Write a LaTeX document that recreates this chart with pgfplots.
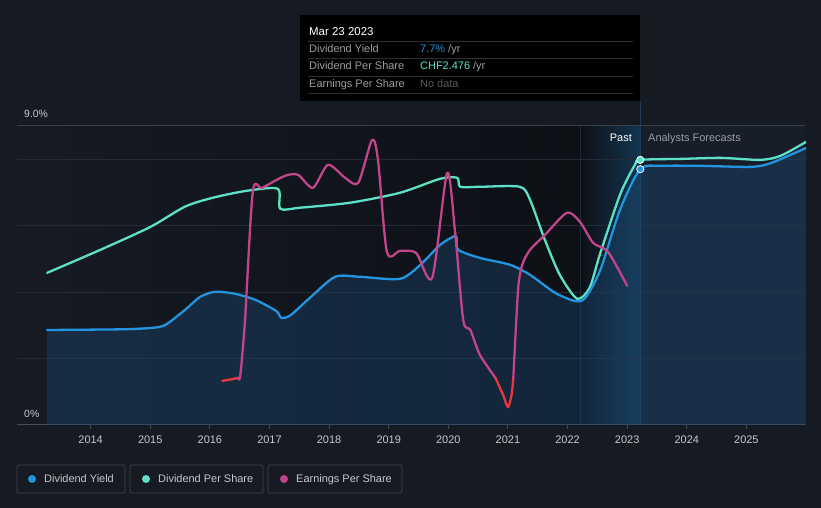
\documentclass[border=0pt]{standalone}
\usepackage{fontspec}
\setmainfont{Liberation Sans}
\usepackage{pgfplots}
\pgfplotsset{compat=1.18}
\definecolor{bg}{HTML}{151A23}
\definecolor{pastdark}{HTML}{0D1015}
\definecolor{foreb}{HTML}{171E29}
\definecolor{gridc}{HTML}{252B34}
\definecolor{topc}{HTML}{3B4048}
\definecolor{axisc}{HTML}{474B52}
\definecolor{tickc}{HTML}{C5C8CC}
\definecolor{yieldc}{HTML}{2394DF}
\definecolor{dpsc}{HTML}{5CE1C8}
\definecolor{epsc}{HTML}{C24489}
\definecolor{redc}{HTML}{E8383D}
\definecolor{fillc}{HTML}{1E5080}
\definecolor{bandr}{HTML}{133550}
\definecolor{vline}{HTML}{1F3D55}
\definecolor{vlinef}{HTML}{18293A}
\definecolor{ttgray}{HTML}{9A9DA2}
\definecolor{ttsep}{HTML}{2C2F35}
\definecolor{legb}{HTML}{3E434B}
\begin{document}
\begin{tikzpicture}[x=1bp,y=1bp]
\fill[bg] (0,0) rectangle (821,508);
\shade[left color=bg, right color=pastdark] (47,83) rectangle (580,382);
\shade[left color=pastdark, right color=bandr] (580,83) rectangle (640,382);
\fill[foreb] (640,83) rectangle (805,382);
% grid
\foreach \v in {2,4,6,8} {\draw[gridc, line width=1bp] (17,{83+\v*33.2}) -- (805,{83+\v*33.2});}
\draw[topc, line width=1bp] (17,382) -- (805,382);
\draw[vlinef, line width=0.6bp] (580,83) -- (580,382);
\draw[vline, line width=1bp] (640,83) -- (640,407);
\begin{axis}[at={(17bp,83bp)}, anchor=south west, scale only axis,
  width=789bp, height=299bp,
  xmin=2012.765, xmax=2026.0, ymin=0, ymax=9,
  axis x line*=bottom, axis y line=none,
  x axis line style={draw=axisc, line width=1bp, -},
  xtick={2014,2015,2016,2017,2018,2019,2020,2021,2022,2023,2024,2025},
  xticklabels={2014,2015,2016,2017,2018,2019,2020,2021,2022,2023,2024,2025},
  xticklabel style={text=tickc, font=\fontsize{11}{13}\selectfont, yshift=-3bp},
  major tick length=4bp, tick align=outside,
  tick style={draw=axisc, line width=1bp},
  ytick=\empty,
  every axis plot/.append style={line width=2.3bp, line join=round, line cap=round},
  ]
% fill under dividend yield
\addplot[draw=none, fill=fillc, fill opacity=0.35, smooth, tension=0.45] coordinates {
(2013.27,2.86)(2014.5,2.88)(2015.0,2.92)(2015.25,3.01)(2015.58,3.46)(2015.84,3.86)(2016.09,4.01)(2016.42,3.95)(2016.76,3.77)(2017.09,3.46)(2017.15,3.36)(2017.20,3.22)(2017.35,3.30)(2017.68,3.83)(2018.10,4.46)(2018.52,4.46)(2019.19,4.40)(2019.53,4.82)(2019.86,5.42)(2020.11,5.69)(2020.14,5.60)(2020.17,5.27)(2020.53,5.03)(2021.04,4.82)(2021.37,4.52)(2021.79,3.98)(2022.13,3.73)(2022.30,3.83)(2022.55,4.67)(2022.88,6.48)(2023.22,7.70)(2023.57,7.80)(2024.25,7.80)(2025.08,7.77)(2025.42,7.89)(2026.0,8.34)
} \closedcycle;
% dividend per share
\addplot[dpsc, smooth, tension=0.45] coordinates {
(2013.27,4.58)(2014.16,5.27)(2015.0,5.96)(2015.58,6.57)(2016.05,6.84)(2016.62,7.05)(2017.14,7.11)(2017.18,6.51)(2017.51,6.54)(2018.35,6.69)(2019.19,6.99)(2019.86,7.41)(2020.15,7.44)(2020.20,7.17)(2020.53,7.17)(2021.20,7.17)(2021.37,6.78)(2021.62,5.57)(2021.87,4.52)(2022.16,3.80)(2022.37,4.13)(2022.54,5.12)(2022.88,6.93)(2023.13,7.83)(2023.22,7.98)(2023.91,8.01)(2024.58,8.04)(2025.23,7.98)(2025.57,8.10)(2026.0,8.52)
};
% dividend yield
\addplot[yieldc, smooth, tension=0.45] coordinates {
(2013.27,2.86)(2014.5,2.88)(2015.0,2.92)(2015.25,3.01)(2015.58,3.46)(2015.84,3.86)(2016.09,4.01)(2016.42,3.95)(2016.76,3.77)(2017.09,3.46)(2017.15,3.36)(2017.20,3.22)(2017.35,3.30)(2017.68,3.83)(2018.10,4.46)(2018.52,4.46)(2019.19,4.40)(2019.53,4.82)(2019.86,5.42)(2020.11,5.69)(2020.14,5.60)(2020.17,5.27)(2020.53,5.03)(2021.04,4.82)(2021.37,4.52)(2021.79,3.98)(2022.13,3.73)(2022.30,3.83)(2022.55,4.67)(2022.88,6.48)(2023.22,7.70)(2023.57,7.80)(2024.25,7.80)(2025.08,7.77)(2025.42,7.89)(2026.0,8.34)
};
% earnings per share
\addplot[redc, smooth, tension=0.45] coordinates {(2016.21,1.33)(2016.35,1.37)(2016.47,1.42)};
\addplot[epsc, smooth, tension=0.45] coordinates {
(2016.47,1.42)(2016.51,1.48)(2016.59,3.16)(2016.72,7.02)(2016.88,7.14)(2017.26,7.50)(2017.48,7.53)(2017.73,7.14)(2017.98,7.83)(2018.27,7.44)(2018.49,7.29)(2018.72,8.58)(2018.82,7.98)(2018.97,5.21)(2019.19,5.24)(2019.46,5.18)(2019.73,4.43)(2019.98,7.59)(2020.11,5.87)(2020.25,3.16)(2020.37,2.86)(2020.53,2.11)(2020.79,1.42)
};
\addplot[redc, smooth, tension=0.45] coordinates {(2020.79,1.42)(2020.92,0.90)(2021.00,0.54)(2021.06,0.90)(2021.09,1.40)};
\addplot[epsc, smooth, tension=0.45] coordinates {
(2021.09,1.40)(2021.17,4.07)(2021.24,4.82)(2021.37,5.27)(2021.62,5.72)(2021.99,6.39)(2022.21,6.11)(2022.43,5.48)(2022.68,5.21)(2023.00,4.19)
};
\addplot[only marks, mark=*, mark size=3.6bp, mark options={fill=dpsc, draw=white, line width=0.8bp}] coordinates {(2023.22,7.98)};
\addplot[only marks, mark=*, mark size=3.6bp, mark options={fill=yieldc, draw=white, line width=0.8bp}] coordinates {(2023.22,7.70)};
\end{axis}
% labels
\node[anchor=base west, inner sep=0, text=tickc, font=\fontsize{10.5}{12}\selectfont] at (24,390) {9.0\%};
\node[anchor=base west, inner sep=0, text=tickc, font=\fontsize{10.5}{12}\selectfont] at (24,90) {0\%};
\node[anchor=base east, inner sep=0, text=white, font=\fontsize{11}{13}\selectfont] at (632,366) {Past};
\node[anchor=base west, inner sep=0, text=ttgray, font=\fontsize{11}{13}\selectfont] at (648,366) {Analysts Forecasts};
% tooltip
\fill[black] (300,407) rectangle (640,493);
\node[anchor=base west, inner sep=0, text=white, font=\fontsize{11.5}{13}\selectfont] at (309,472) {Mar 23 2023};
\foreach \yy in {467,450,432,415} {\draw[ttsep, line width=0.8bp] (308,\yy) -- (633,\yy);}
\node[anchor=base west, inner sep=0, text=ttgray, font=\fontsize{11}{13}\selectfont] at (309,455) {Dividend Yield};
\node[anchor=base west, inner sep=0, text=ttgray, font=\fontsize{11}{13}\selectfont] at (309,438) {Dividend Per Share};
\node[anchor=base west, inner sep=0, text=ttgray, font=\fontsize{11}{13}\selectfont] at (309,420) {Earnings Per Share};
\node[anchor=base west, inner sep=0, font=\fontsize{11}{13}\selectfont] at (420,455) {\textcolor{yieldc}{7.7\%}\ \textcolor{ttgray}{/yr}};
\node[anchor=base west, inner sep=0, font=\fontsize{11}{13}\selectfont] at (420,438) {\textcolor{dpsc}{CHF2.476}\ \textcolor{ttgray}{/yr}};
\node[anchor=base west, inner sep=0, text=gray!70!black, font=\fontsize{11}{13}\selectfont] at (420,420) {No data};
% legend
\draw[legb, line width=0.8bp, rounded corners=2bp] (17,15) rectangle (125,43);
\draw[legb, line width=0.8bp, rounded corners=2bp] (130,15) rectangle (263,43);
\draw[legb, line width=0.8bp, rounded corners=2bp] (268,15) rectangle (402,43);
\fill[yieldc] (32,29) circle (4);
\fill[dpsc] (146,29) circle (4);
\fill[epsc] (284,29) circle (4);
\node[anchor=base west, inner sep=0, text=tickc, font=\fontsize{11}{13}\selectfont] at (44,25) {Dividend Yield};
\node[anchor=base west, inner sep=0, text=tickc, font=\fontsize{11}{13}\selectfont] at (158,25) {Dividend Per Share};
\node[anchor=base west, inner sep=0, text=tickc, font=\fontsize{11}{13}\selectfont] at (296,25) {Earnings Per Share};
\end{tikzpicture}
\end{document}
